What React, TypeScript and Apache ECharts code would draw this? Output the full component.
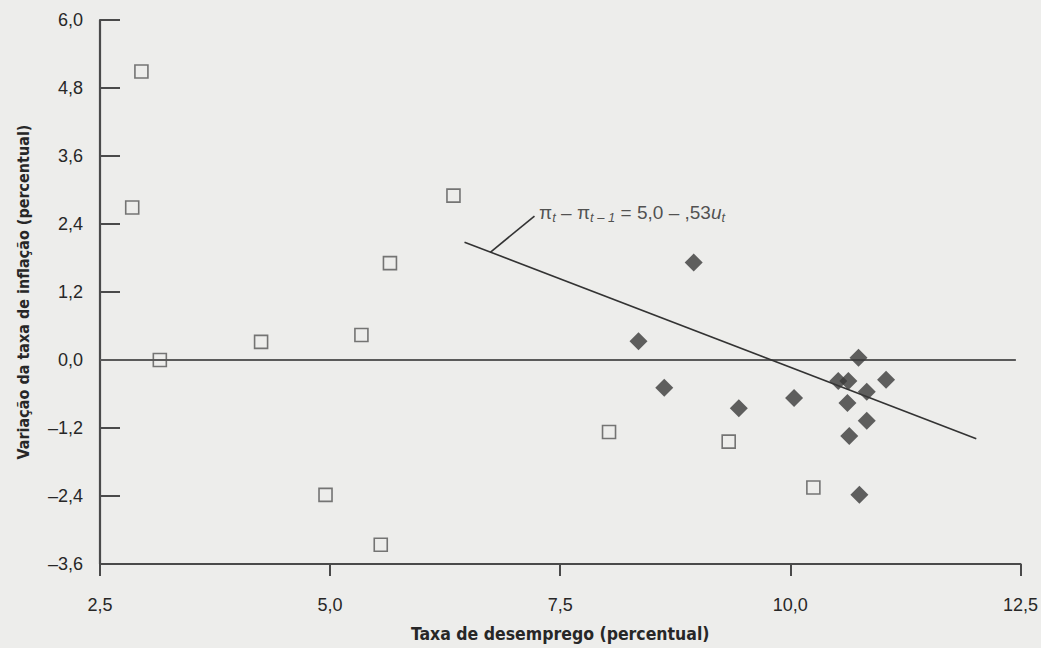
import { useEffect, useRef } from 'react';
import * as echarts from 'echarts';

const xTicks = [2.5, 5.0, 7.5, 10.0, 12.5];
const yTicks = [-3.6, -2.4, -1.2, 0.0, 1.2, 2.4, 3.6, 4.8, 6.0];

// open squares (x = unemployment, y = change in inflation)
const openSquares = [
  [2.95, 5.09], [2.85, 2.69], [6.34, 2.9], [5.65, 1.71], [3.15, 0.0], [4.25, 0.32],
  [5.34, 0.44], [4.95, -2.38], [5.55, -3.26], [8.03, -1.27], [9.33, -1.44], [10.25, -2.25],
];

// filled diamonds
const diamonds = [
  [8.95, 1.72], [8.35, 0.33], [8.63, -0.49], [9.44, -0.85], [10.04, -0.67], [10.74, 0.04],
  [10.52, -0.37], [10.63, -0.37], [11.04, -0.35], [10.83, -0.56], [10.62, -0.76],
  [10.83, -1.07], [10.64, -1.34], [10.75, -2.38],
];

const fitLine = [[6.46, 2.08], [12.02, -1.39]];
const zeroLine = [[2.5, 0], [12.45, 0]];
const pointerLine = [[6.74, 1.9], [7.22, 2.54]];
const labelAnchor = [[7.27, 2.61]];

const NAME_FONT = '"DejaVu Sans Condensed", "Liberation Sans", sans-serif';
const FONT = '"Liberation Sans", Arial, sans-serif';
const INK = '#272727';
const AXIS = '#4a4a4a';

const fmt = (v: number) => {
  const s = Math.abs(v).toFixed(1).replace('.', ',');
  return v < -1e-9 ? '–' + s : s;
};

export default function App() {
  const ref = useRef<HTMLDivElement>(null);
  useEffect(() => {
    document.body.style.margin = '0';
    const chart = echarts.init(ref.current!, null, { renderer: 'svg' });
    chart.setOption({
      animation: false,
      backgroundColor: '#ededeb',
      grid: { left: 100, right: 15, top: 20, bottom: 83 },
      xAxis: {
        type: 'value',
        min: xTicks[0],
        max: xTicks[xTicks.length - 1],
        interval: 2.5,
        name: 'Taxa de desemprego (percentual)',
        nameLocation: 'middle',
        nameGap: 61,
        nameTextStyle: { fontFamily: NAME_FONT, fontWeight: 'bold', fontSize: 17.5, color: INK },
        axisLine: { onZero: false, lineStyle: { color: AXIS, width: 2.2 } },
        axisTick: { inside: false, length: 12, lineStyle: { color: AXIS, width: 2 } },
        axisLabel: { formatter: fmt, fontFamily: FONT, fontSize: 18, color: INK, margin: 32 },
        splitLine: { show: false },
      },
      yAxis: {
        type: 'value',
        min: yTicks[0],
        max: yTicks[yTicks.length - 1],
        interval: 1.2,
        name: 'Variação da taxa de inflação (percentual)',
        nameLocation: 'middle',
        nameGap: 69,
        nameTextStyle: { fontFamily: NAME_FONT, fontWeight: 'bold', fontSize: 16, color: INK },
        axisLine: { onZero: false, lineStyle: { color: AXIS, width: 2.2 } },
        axisTick: { inside: true, length: 20, lineStyle: { color: AXIS, width: 2 } },
        axisLabel: { formatter: fmt, fontFamily: FONT, fontSize: 18, color: INK, margin: 17 },
        splitLine: { show: false },
      },
      series: [
        {
          type: 'line',
          data: zeroLine,
          symbol: 'none',
          clip: false,
          lineStyle: { color: '#5a5a5a', width: 2 },
          z: 1,
        },
        {
          type: 'line',
          data: fitLine,
          symbol: 'none',
          lineStyle: { color: '#333333', width: 1.6 },
          z: 2,
        },
        {
          type: 'line',
          data: pointerLine,
          symbol: 'none',
          lineStyle: { color: '#333333', width: 1.6 },
          z: 2,
        },
        {
          type: 'scatter',
          data: openSquares,
          symbol: 'rect',
          symbolSize: 13,
          itemStyle: { color: 'rgba(0,0,0,0)', borderColor: '#555555', borderWidth: 1.6 },
          z: 3,
        },
        {
          type: 'scatter',
          data: diamonds,
          symbol: 'diamond',
          symbolSize: 18,
          itemStyle: { color: '#3a3a3a' },
          z: 3,
        },
        {
          type: 'scatter',
          data: labelAnchor,
          symbolSize: 0,
          itemStyle: { color: 'rgba(0,0,0,0)' },
          z: 4,
          label: {
            show: true,
            position: 'right',
            distance: 0,
            formatter: '{p|π}{s|t}{p| – π}{s|t – 1}{p| = 5,0 – ,53}{u|u}{s|t}',
            rich: {
              p: { fontFamily: FONT, fontSize: 19, color: INK, lineHeight: 22 },
              u: { fontFamily: FONT, fontSize: 19, color: INK, fontStyle: 'italic', lineHeight: 22 },
              s: {
                fontFamily: FONT,
                fontSize: 13,
                color: INK,
                fontStyle: 'italic',
                lineHeight: 13,
                padding: [10, 0, 0, 0],
              },
            },
          },
        },
      ],
    });
    return () => chart.dispose();
  }, []);
  return <div ref={ref} style={{ position: 'fixed', left: 0, top: 0, width: 1041, height: 648 }} />;
}
